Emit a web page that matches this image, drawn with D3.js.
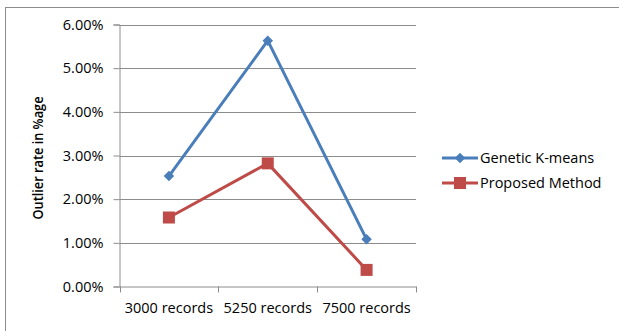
<!DOCTYPE html>
<html>
<head>
<meta charset="utf-8">
<script src="https://cdn.jsdelivr.net/npm/d3@7"></script>
<style>
  html, body { margin: 0; padding: 0; background: #fff; }
  svg { display: block; }
  text { font-family: "Open Sans", sans-serif; fill: #000; }
</style>
</head>
<body>
<svg id="chart" width="619" height="331"></svg>
<script>
const categories = ["3000 records", "5250 records", "7500 records"];
const geneticKMeans = [2.53, 5.63, 1.08];
const proposedMethod = [1.58, 2.82, 0.38];
const yTicks = [0, 1, 2, 3, 4, 5, 6];
const seriesNames = ["Genetic K-means", "Proposed Method"];

const svg = d3.select("#chart");
const FONT = "'Open Sans', sans-serif";
const FS = 14.5;

// outer chart frame
svg.append("rect")
  .attr("x", 5.5).attr("y", 7.5)
  .attr("width", 640).attr("height", 340)
  .attr("fill", "none").attr("stroke", "#8c8c8c").attr("stroke-width", 1);

const plot = { left: 119.5, right: 416, top: 24.5, bottom: 286.5 };

const x = d3.scaleBand().domain(categories).range([plot.left, plot.right]);
const y = d3.scaleLinear().domain([0, 6]).range([plot.bottom, plot.top]);

// horizontal gridlines
svg.append("g").selectAll("line").data(yTicks.filter(d => d > 0)).join("line")
  .attr("x1", plot.left).attr("x2", plot.right)
  .attr("y1", d => Math.round(y(d)) + 0.5).attr("y2", d => Math.round(y(d)) + 0.5)
  .attr("stroke", "#8c8c8c").attr("stroke-width", 1);

// y axis
const yAxis = svg.append("g")
  .attr("transform", `translate(${plot.left},0)`)
  .call(d3.axisLeft(y).tickValues(yTicks).tickSize(6).tickPadding(10)
    .tickFormat(d => d.toFixed(2) + "%"));
yAxis.select(".domain").attr("stroke", "#8c8c8c");
yAxis.selectAll(".tick line").attr("stroke", "#8c8c8c");
yAxis.selectAll(".tick text").attr("font-size", FS).attr("fill", "#222")
  .style("font-family", FONT);

// x axis
const xAxis = svg.append("g")
  .attr("transform", `translate(0,${plot.bottom})`)
  .call(d3.axisBottom(x).tickSize(0).tickPadding(16));
xAxis.select(".domain").attr("stroke", "#8c8c8c");
xAxis.selectAll(".tick text").attr("font-size", FS).attr("fill", "#222")
  .style("font-family", FONT);
// category boundary ticks
const bounds = categories.map(c => x(c)).concat([plot.right]);
svg.append("g").selectAll("line").data(bounds).join("line")
  .attr("x1", d => Math.round(d) + 0.5).attr("x2", d => Math.round(d) + 0.5)
  .attr("y1", plot.bottom).attr("y2", plot.bottom + 6)
  .attr("stroke", "#8c8c8c");

// y axis title
svg.append("text")
  .attr("transform", `translate(43,158) rotate(-90)`)
  .attr("text-anchor", "middle")
  .attr("font-size", 13.5).attr("font-weight", 600)
  .attr("textLength", 123).attr("lengthAdjust", "spacingAndGlyphs")
  .text("Outlier rate in %age");

const cx = c => x(c) + x.bandwidth() / 2;
const line = d3.line().x(d => cx(d.c)).y(d => y(d.v));

const blue = "#4a7ebb", red = "#be4b48";
const gData = categories.map((c, i) => ({ c, v: geneticKMeans[i] }));
const pData = categories.map((c, i) => ({ c, v: proposedMethod[i] }));

svg.append("path").datum(gData).attr("d", line)
  .attr("fill", "none").attr("stroke", blue).attr("stroke-width", 3).attr("stroke-linejoin", "round");
svg.append("path").datum(pData).attr("d", line)
  .attr("fill", "none").attr("stroke", red).attr("stroke-width", 3).attr("stroke-linejoin", "round");

const diamond = d3.symbol().type(d3.symbolDiamond2).size(70);
svg.append("g").selectAll("path").data(gData).join("path")
  .attr("transform", d => `translate(${cx(d.c)},${y(d.v)})`)
  .attr("d", diamond).attr("fill", blue);

svg.append("g").selectAll("rect").data(pData).join("rect")
  .attr("x", d => cx(d.c) - 6).attr("y", d => y(d.v) - 6)
  .attr("width", 12).attr("height", 12).attr("fill", red);

// legend
const legend = svg.append("g");
const legendY = [158, 183];
const colors = [blue, red];
seriesNames.forEach((name, i) => {
  const g = legend.append("g").attr("transform", `translate(0,${legendY[i]})`);
  g.append("line").attr("x1", 442).attr("x2", 478).attr("y1", 0).attr("y2", 0)
    .attr("stroke", colors[i]).attr("stroke-width", 3);
  if (i === 0) {
    g.append("path").attr("transform", "translate(460,0)").attr("d", diamond).attr("fill", blue);
  } else {
    g.append("rect").attr("x", 454).attr("y", -6).attr("width", 12).attr("height", 12).attr("fill", red);
  }
  g.append("text").attr("x", 480).attr("y", 0).attr("dy", "0.35em")
    .attr("font-size", FS).attr("fill", "#222").text(name);
});
</script>
</body>
</html>
